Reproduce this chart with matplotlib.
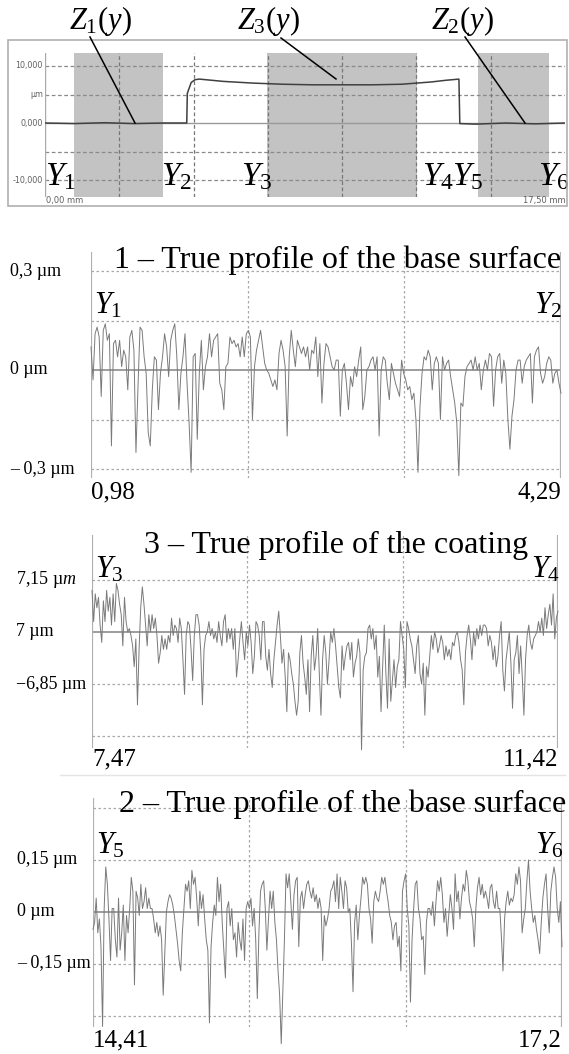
import numpy as np
import matplotlib
matplotlib.use("Agg")
import matplotlib.pyplot as plt
from matplotlib.patches import Rectangle

plt.rcParams['mathtext.fontset'] = 'custom'
plt.rcParams['mathtext.rm'] = 'Liberation Serif'
plt.rcParams['mathtext.it'] = 'Liberation Serif:italic'
plt.rcParams['mathtext.bf'] = 'Liberation Serif:bold'

# ---------------- data ----------------
# overview profile (mm, um)
z_mm = [0.0, 1.0, 2.0, 3.0, 4.0, 4.77, 4.79, 4.83, 4.92, 5.05, 5.2, 5.6, 6.0, 7.0, 8.0,
        9.0, 10.0, 11.0, 12.0, 12.5, 13.0, 13.5, 13.93, 13.96, 14.5, 15.5, 16.5, 17.5]
z_um = [0.0, -0.1, 0.05, -0.1, 0.0, 0.0, 5.2, 5.8, 7.1, 7.6, 7.7, 7.5, 7.3, 7.0, 6.8,
        6.7, 6.7, 6.7, 6.8, 7.0, 7.2, 7.5, 7.7, -0.1, -0.2, 0.0, -0.15, 0.0]
ov_ticks_y = [10, 5, 0, -10]
ov_ticklabels = ["10,000", "µm", "0,000", "-10,000"]
shade_mm = [(0.98, 3.97), (7.47, 12.52), (14.57, 16.96)]
y_marks = [("$Y_{\\mathit{1}}$", 0.0), ("$Y_{\\mathit{2}}$", 3.9), ("$Y_{\\mathit{3}}$", 6.6),
           ("$Y_{\\mathit{4}}$", 12.7), ("$Y_{\\mathit{5}}$", 13.7), ("$Y_{\\mathit{6}}$", 16.6)]

base1 = [0.07, -0.03, 0.11, 0.13, 0.10, -0.08, 0.12, 0.14, 0.09, 0.11, -0.23, 0.08, 0.09, 0.04,
         0.09, 0.01, 0.06, 0.04, -0.06, 0.10, 0.12, 0.06, -0.25, -0.05, 0.13, 0.12, 0.04, -0.01,
         -0.19, -0.23, -0.06, 0.04, 0.03, -0.12, -0.01, 0.04, 0.11, 0.07, -0.02, 0.09, 0.12, 0.14,
         0.04, -0.12, -0.01, 0.04, 0.11, -0.04, -0.16, -0.31, 0.04, 0.05, -0.21, -0.01, 0.09, -0.06,
         0.01, 0.04, 0.11, 0.04, 0.09, 0.10, 0.11, -0.04, -0.06, -0.12, 0.01, 0.02, 0.10, 0.08,
         0.09, 0.07, 0.08, 0.04, 0.10, 0.04, 0.11, 0.12, 0.10, -0.15, 0.01, 0.06, 0.09, 0.12, 0.07,
         0.02, 0.00, -0.01, -0.03, -0.05, -0.03, -0.06, 0.05, 0.09, 0.06, 0.01, -0.20, 0.04, 0.12,
         0.06, 0.01, 0.09, 0.07, 0.05, 0.07, 0.04, 0.07, 0.00, 0.06, 0.05, 0.10, -0.02, 0.08, -0.10,
         0.02, 0.08, 0.07, 0.04, 0.01, 0.00, 0.03,
         0.03, -0.14, 0.00, 0.02, -0.04, -0.12, -0.02, -0.05, 0.01, -0.02, 0.03, 0.07, -0.12, -0.08,
         0.00, 0.01, 0.03, 0.04, 0.00, 0.04, -0.20, 0.00, 0.04, 0.03, -0.04, -0.09, 0.02, -0.01,
         -0.04, -0.06, -0.08, 0.03, -0.01, -0.03, -0.06, -0.05, -0.09, -0.07, -0.15, -0.31, -0.11,
         -0.01, 0.04, 0.03, 0.06, 0.04, -0.06, 0.02, 0.04, 0.02, -0.15, 0.04, 0.00, 0.02, 0.03,
         -0.02, -0.06, -0.10, -0.16, -0.32, -0.10, -0.11, -0.02, 0.01, 0.02, 0.03, 0.00, 0.04, 0.00,
         0.02, -0.06, 0.00, 0.03, 0.00, 0.05, 0.04, -0.11, 0.00, 0.04, 0.05, -0.04, 0.03, -0.01,
         -0.15, -0.24, -0.14, -0.09, 0.00, 0.03, 0.03, -0.04, 0.01, 0.03, 0.04, 0.05, -0.10, 0.04,
         0.06, 0.07, -0.01, -0.04, -0.02, 0.02, 0.04, 0.03, -0.04, -0.01, 0.00, -0.04, -0.07]

coating = [7.12, 7.03, 7.11, 7.07, 7.10, 7.02, 6.97, 7.09, 7.03, 7.12, 7.06, 7.10, 7.02, 7.11,
           7.03, 7.14, 7.12, 7.08, 7.05, 6.96, 7.10, 7.03, 7.00, 7.01, 6.99, 6.96, 6.90, 6.98,
           6.79, 6.95, 7.07, 7.13, 7.08, 7.02, 6.96, 7.05, 7.00, 7.05, 7.01, 7.04, 6.99, 6.91,
           6.94, 6.99, 6.95, 6.98, 6.95, 6.99, 6.97, 7.04, 6.99, 7.02, 7.01, 6.97, 7.04, 7.01,
           6.92, 6.82, 6.99, 7.03, 7.02, 6.95, 6.86, 6.99, 7.05, 7.05, 7.02, 6.94, 6.79, 6.95,
           6.99, 7.00, 7.03, 6.99, 7.01, 6.98, 7.00, 6.97, 7.03, 6.99, 6.96, 7.03, 7.05, 6.97,
           7.01, 6.98, 7.01, 6.95, 7.01, 6.87, 6.92, 6.98, 7.03, 6.97, 6.92, 7.00, 6.96, 7.02,
           6.97, 6.88, 6.93, 7.03, 7.02, 6.99, 6.92, 7.03, 7.03, 6.93, 6.89, 6.95, 6.88, 6.84,
           6.92, 6.97, 7.02, 7.06, 6.99, 6.91, 6.95, 6.87, 6.77, 6.94, 6.92, 6.88, 6.85, 6.80,
           6.76, 6.80, 6.94, 6.99, 6.91, 6.87, 6.82, 6.92, 6.77, 6.93, 6.99, 6.89, 6.93, 7.01,
           6.88, 6.76, 6.92, 6.99, 6.94, 6.85,
           6.92, 7.00, 6.97, 7.01, 6.96, 6.90, 6.84, 6.81, 6.96, 6.89, 6.93, 6.96, 6.97, 6.92,
           6.97, 6.87, 6.91, 6.93, 6.98, 6.94, 6.66, 6.89, 6.93, 6.94, 7.01, 7.02, 6.98, 7.01,
           6.95, 6.99, 6.87, 6.93, 6.77, 6.90, 7.02, 6.88, 6.78, 6.98, 6.80, 6.86, 6.92, 6.84,
           6.90, 6.92, 7.03, 6.99, 6.95, 6.84, 7.03, 7.01, 6.98, 6.96, 6.92, 6.88, 6.96, 6.99,
           6.88, 6.85, 6.91, 6.76, 6.90, 6.87, 6.93, 6.99, 6.95, 7.00, 6.98, 6.94, 6.96, 6.99,
           6.97, 6.92, 6.96, 6.93, 6.95, 6.92, 6.97, 6.96, 6.99, 7.00, 6.97, 6.92, 6.89, 6.79,
           6.94, 6.99, 7.02, 6.98, 6.92, 7.00, 6.96, 7.01, 6.98, 7.02, 6.99, 7.02, 7.02, 7.01,
           6.96, 6.99, 6.97, 6.92, 6.96, 6.90, 6.93, 6.99, 7.03, 6.89, 6.83, 6.92, 6.96, 7.00,
           6.91, 6.78, 6.92, 6.94, 6.99, 6.88, 6.96, 6.87, 6.76, 6.92, 6.99, 7.02, 6.97, 6.95,
           6.98, 6.99, 7.00, 7.03, 7.00, 7.04, 6.99, 7.07, 7.01, 7.05, 7.08, 7.02, 7.11, 6.98,
           7.04, 7.06]

base2 = [-0.05, -0.03, 0.04, -0.06, -0.02, -0.10, -0.33, 0.01, 0.13, 0.08, -0.02, -0.14, 0.01,
         0.01, -0.08, -0.13, 0.04, -0.11, -0.06, 0.02, -0.14, -0.01, -0.06, 0.01, 0.10, 0.06,
         -0.21, 0.06, 0.04, -0.01, 0.08, 0.01, 0.03, 0.07, 0.01, 0.04, 0.01, 0.01, -0.02, -0.06,
         -0.03, -0.07, -0.04, -0.08, -0.24, -0.12, -0.00, 0.03, 0.05, 0.04, 0.02, -0.01, -0.05,
         -0.09, -0.14, -0.17, -0.06, 0.01, 0.08, 0.06, 0.09, 0.01, 0.12, 0.08, 0.10, 0.04, -0.04,
         0.06, 0.01, 0.05, -0.02, -0.08, -0.11, -0.32, -0.10, -0.03, 0.02, -0.01, 0.10, 0.03,
         0.08, -0.03, -0.11, -0.19, 0.01, 0.03, -0.04, 0.01, -0.08, -0.06, -0.13, -0.03, -0.08,
         -0.11, -0.02, -0.14, 0.01, 0.03, 0.01, 0.04, -0.04, 0.01, -0.08, -0.25, -0.06, 0.06,
         0.08, 0.09, 0.01, -0.11, -0.02, 0.06, 0.01, 0.06, -0.03, -0.08, -0.17, -0.24, -0.38,
         -0.23, -0.08, 0.11, 0.07, 0.11, 0.03, -0.05, 0.05, 0.09, 0.10, -0.10, 0.04, 0.06, 0.01,
         0.05, 0.08, 0.09, 0.06, 0.04, 0.07, 0.03, 0.05, 0.01, 0.04, 0.01, -0.14, -0.01, -0.04,
         -0.02, 0.01, 0.06, 0.07, 0.09, 0.03, 0.11, 0.01, 0.10, 0.06, 0.01, 0.09, 0.07, -0.00,
         0.01, -0.09, -0.23, -0.03, 0.02, -0.08, -0.01, 0.04, 0.10, 0.08, 0.10, 0.08, 0.01,
         -0.02, -0.09, 0.03, 0.06, 0.04, 0.03, 0.06, 0.10, 0.08, 0.10, 0.06, 0.03, -0.01, -0.03,
         -0.08, -0.04, -0.03, -0.10, -0.07, -0.17, 0.06, 0.09, 0.11, 0.01, -0.04, -0.26, -0.08,
         0.01, 0.08, 0.09, 0.01, -0.02, -0.08, -0.07, -0.18, -0.03, 0.01, 0.01, -0.01, 0.03,
         -0.04, 0.03, 0.09, 0.06, 0.10, 0.05, -0.03, 0.01, -0.07, -0.01, 0.05, 0.01, -0.05, 0.11,
         0.03, 0.06, -0.02, 0.04, 0.08, 0.06, 0.12, 0.09, 0.03, 0.01, -0.02, -0.10, 0.01, 0.07,
         0.10, 0.05, 0.08, 0.04, 0.06, 0.04, 0.01, 0.07, 0.08, 0.03, 0.01, 0.06, 0.01, 0.01,
         -0.07, -0.17, -0.02, 0.03, 0.06, 0.02, 0.04, 0.03, 0.05, 0.11, 0.08, 0.13, 0.09, -0.06,
         -0.02, 0.01, 0.09, 0.15, 0.06, 0.01, -0.03, -0.01, -0.05, -0.08, -0.12, -0.03, 0.04,
         0.08, 0.11, 0.01, -0.06, 0.06, 0.10, 0.13, 0.10, 0.01, -0.03, 0.03, -0.10]

panels = [
    dict(title="1 – True profile of the base surface", x0=0.98, x1=4.29, xl=("0,98", "4,29"),
         data=base1, zero=0.0, step=0.15, grid=[0.15, 0.3, -0.15, -0.3],
         ylabels=[("0,3 µm", 0.3), ("0 µm", 0.0), ("– 0,3 µm", -0.3)],
         marks=("$Y_{\\mathit{1}}$", "$Y_{\\mathit{2}}$")),
    dict(title="3 – True profile of the coating", x0=7.47, x1=11.42, xl=("7,47", "11,42"),
         data=coating, zero=7.0, step=0.15, grid=[7.15, 6.85, 6.7],
         ylabels=[("7,15 µ$m$", 7.15), ("7 µm", 7.0), ("−6,85 µm", 6.85)],
         marks=("$Y_{\\mathit{3}}$", "$Y_{\\mathit{4}}$")),
    dict(title="2 – True profile of the base surface", x0=14.41, x1=17.2, xl=("14,41", "17,2"),
         data=base2, zero=0.0, step=0.15, grid=[0.3, 0.15, -0.15, -0.3],
         ylabels=[("0,15 µm", 0.15), ("0 µm", 0.0), ("– 0,15 µm", -0.15)],
         marks=("$Y_{\\mathit{5}}$", "$Y_{\\mathit{6}}$")),
]

# ---------------- layout helpers ----------------
W, H = 569, 1054
fig = plt.figure(figsize=(W / 100, H / 100), dpi=100)
fig.patch.set_facecolor("white")

def fx(x):
    return x / W

def fy(y):
    return 1 - y / H

def add_ax(x0, y0, x1, y1):
    ax = fig.add_axes([fx(x0), fy(y1), (x1 - x0) / W, (y1 - y0) / H])
    ax.set_xticks([])
    ax.set_yticks([])
    for s in ax.spines.values():
        s.set_visible(False)
    ax.patch.set_alpha(0)
    return ax

SERIF = "Liberation Serif"

# ---------------- overview panel ----------------
fig.add_artist(Rectangle((fx(8), fy(206)), (567 - 8) / W, (206 - 40) / H,
                         transform=fig.transFigure, fill=False, ec="#b0b0b0", lw=1.2))
ax0 = add_ax(45, 53, 565, 197)
ax0.set_xlim(0, 17.5)
ax0.set_ylim(-12.98, 12.28)
for a, b in shade_mm:
    ax0.axvspan(a, b, color="#c3c3c3", lw=0, zorder=0)
for v in [10, 5, -5, -10]:
    ax0.axhline(v, color="#8a8a8a", lw=0.9, ls=(0, (3, 2)), zorder=1)
ax0.axhline(0, color="#9a9a9a", lw=1.0, zorder=1)
for v in [2.5, 5.0, 7.5, 10.0, 12.5, 15.0]:
    ax0.axvline(v, color="#777777", lw=0.9, ls=(0, (3, 2)), zorder=1)
ax0.axvline(0, color="#aaaaaa", lw=1.0, zorder=1)
ax0.plot(z_mm, z_um, color="#404040", lw=1.1, zorder=3)
for lab, v in zip(ov_ticklabels, ov_ticks_y):
    ax0.text(-0.004, v, lab, transform=ax0.get_yaxis_transform(), ha="right", va="center",
             fontsize=5.8, color="#606060", family="DejaVu Sans")
fig.text(fx(46), fy(200), "0,00 mm", ha="left", va="center", fontsize=6.0, color="#606060")
fig.text(fx(566), fy(200), "17,50 mm", ha="right", va="center", fontsize=6.0, color="#606060")
for lab, xm in y_marks:
    ax0.text(xm, -10.9, lab, ha="left", va="baseline", fontsize=24, color="black")

# Z labels with leader lines
zlabels = [("$Z_{\\mathit{1}}(y)$", 100, (90, 37), (135, 123)),
           ("$Z_{\\mathit{3}}(y)$", 268, (281, 38), (336, 79)),
           ("$Z_{\\mathit{2}}(y)$", 462, (465, 37), (525, 123))]
for lab, xc, p0, p1 in zlabels:
    fig.text(fx(xc), fy(29), lab, ha="center", va="baseline", fontsize=22)
    fig.add_artist(plt.Line2D([fx(p0[0]), fx(p1[0])], [fy(p0[1]), fy(p1[1])],
                              transform=fig.transFigure, color="black", lw=1.1))

# ---------------- detail panels ----------------
geo = [
    dict(ax=(91, 252, 561, 478), zero_px=370, px_step=49.5, title_xy=(561, 268, "right"),
         xl_y=492, lab_x=10, mark_y=314),
    dict(ax=(92, 535, 558, 748), zero_px=632, px_step=52.0, title_xy=(336, 553, "center"),
         xl_y=759, lab_x=16, mark_y=578),
    dict(ax=(93, 798, 562, 1027), zero_px=912, px_step=52.0, title_xy=(566, 812, "right"),
         xl_y=1040, lab_x=17, mark_y=853),
]

for p, g in zip(panels, geo):
    x0p, y0p, x1p, y1p = g["ax"]
    ax = add_ax(x0p, y0p, x1p, y1p)
    per_px = p["step"] / g["px_step"]
    top = p["zero"] + (g["zero_px"] - y0p) * per_px
    bot = p["zero"] - (y1p - g["zero_px"]) * per_px
    ax.set_xlim(p["x0"], p["x1"])
    ax.set_ylim(bot, top)
    for v in p["grid"]:
        ax.axhline(v, color="#a8a8a8", lw=0.9, ls=(0, (2, 2)), zorder=1)
    span = p["x1"] - p["x0"]
    for k in (1, 2):
        ax.axvline(p["x0"] + span * k / 3, color="#a8a8a8", lw=0.9, ls=(0, (2, 2)), zorder=1)
    ax.axhline(p["zero"], color="#8c8c8c", lw=1.2, zorder=2)
    ax.axvline(p["x0"], color="#b0b0b0", lw=1.6, zorder=2)
    ax.axvline(p["x1"], color="#b0b0b0", lw=1.6, zorder=2)
    xs = np.linspace(p["x0"], p["x1"], len(p["data"]))
    ax.plot(xs, p["data"], color="#7a7a7a", lw=0.7, zorder=3, clip_on=False)
    tx, ty, tha = g["title_xy"]
    fig.text(fx(tx), fy(ty), p["title"], ha=tha, va="baseline", fontsize=23, family=SERIF)
    fig.text(fx(x0p), fy(g["xl_y"]), p["xl"][0], ha="left", va="center", fontsize=18,
             family=SERIF)
    fig.text(fx(x1p), fy(g["xl_y"]), p["xl"][1], ha="right", va="center", fontsize=18,
             family=SERIF)
    for lab, v in p["ylabels"]:
        ypx = g["zero_px"] - (v - p["zero"]) / per_px
        fig.text(fx(g["lab_x"]), fy(ypx), lab, ha="left", va="center", fontsize=13,
                 family=SERIF)
    fig.text(fx(x0p + 3), fy(g["mark_y"]), p["marks"][0], ha="left", va="baseline", fontsize=22)
    fig.text(fx(x1p + 2), fy(g["mark_y"]), p["marks"][1], ha="right", va="baseline", fontsize=22)

# faint separator above last panel
fig.add_artist(plt.Line2D([fx(60), fx(565)], [fy(775), fy(775)], transform=fig.transFigure,
                          color="#e4e4e4", lw=1.0))

fig.savefig("out.png", dpi=100, facecolor="white")
